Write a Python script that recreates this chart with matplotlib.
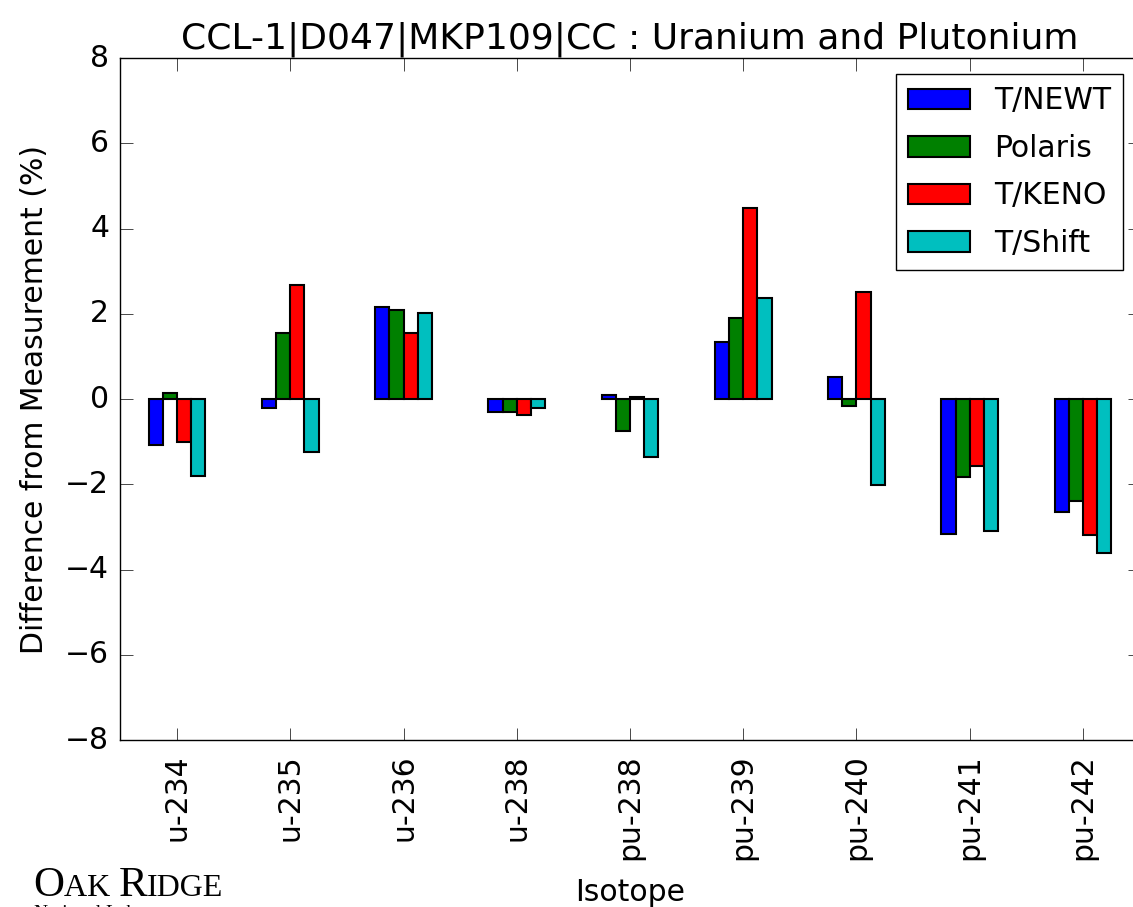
import numpy as np
import matplotlib
matplotlib.use('Agg')
import matplotlib.pyplot as plt

#=========================================================================
# differences from measurement (%) for each isotope
isotopes = ['u-234', 'u-235', 'u-236', 'u-238', 'pu-238',
            'pu-239', 'pu-240', 'pu-241', 'pu-242']
codes = ['T/NEWT', 'Polaris', 'T/KENO', 'T/Shift']

t_newt  = [-1.08, -0.20, 2.15, -0.31,  0.09, 1.35,  0.52, -3.17, -2.64]
polaris = [ 0.15,  1.56, 2.10, -0.31, -0.74, 1.90, -0.16, -1.82, -2.39]
t_keno  = [-1.00,  2.67, 1.54, -0.38,  0.05, 4.48,  2.52, -1.56, -3.20]
t_shift = [-1.81, -1.25, 2.01, -0.22, -1.35, 2.37, -2.02, -3.10, -3.62]

colors = ['b', 'g', 'r', 'c']
title = 'CCL-1|D047|MKP109|CC : Uranium and Plutonium'

#=========================================================================
plt.style.use('classic')
plt.rcParams['font.family'] = ['DejaVu Sans']
fs = 21.5

fig = plt.figure(figsize=(11.33, 9.07), dpi=100, facecolor='w')
ax = fig.add_axes([0.1063, 0.184, 0.8995, 0.752])

x = np.arange(len(isotopes))
width = 0.125
series = [t_newt, polaris, t_keno, t_shift]
for n, vals in enumerate(series):
  ax.bar(x + (n - 1.5)*width, vals, width, color=colors[n],
         edgecolor='k', linewidth=1.5, label=codes[n])

ax.set_xlim(-0.5, len(isotopes) - 0.5)
ax.set_ylim(-8, 8)
ax.set_yticks(np.arange(-8, 9, 2))
ax.set_xticks(x)
ax.set_xticklabels(isotopes, rotation=90)
ax.tick_params(which='major', length=9, labelsize=fs)
ax.tick_params(axis='x', pad=10)
ax.tick_params(axis='y', pad=8)

ax.set_xlabel('Isotope', fontsize=fs, labelpad=13)
ax.set_ylabel('Difference from Measurement (%)', fontsize=fs, labelpad=12)
ax.set_title(title, fontsize=26, y=1.004)

ax.legend(loc='upper right', fontsize=fs, handlelength=2.1,
          borderaxespad=0.55, labelspacing=0.62)

# lab name in the lower left corner
renderer = fig.canvas.get_renderer()
xpos = 33.0
for piece, size in [('O', 31), ('AK ', 23), ('R', 31), ('IDGE', 23)]:
  t = fig.text(xpos/1133.0, 1.0 - 896.0/907, piece, fontsize=size,
               family='Liberation Serif', ha='left', va='baseline')
  xpos += t.get_window_extent(renderer).width
fig.text(34/1133.0, 1.0 - 918.0/907, 'National Laboratory', fontsize=14,
         family='Liberation Serif', ha='left', va='baseline')

plt.savefig('out.png', dpi=100, facecolor='w')
